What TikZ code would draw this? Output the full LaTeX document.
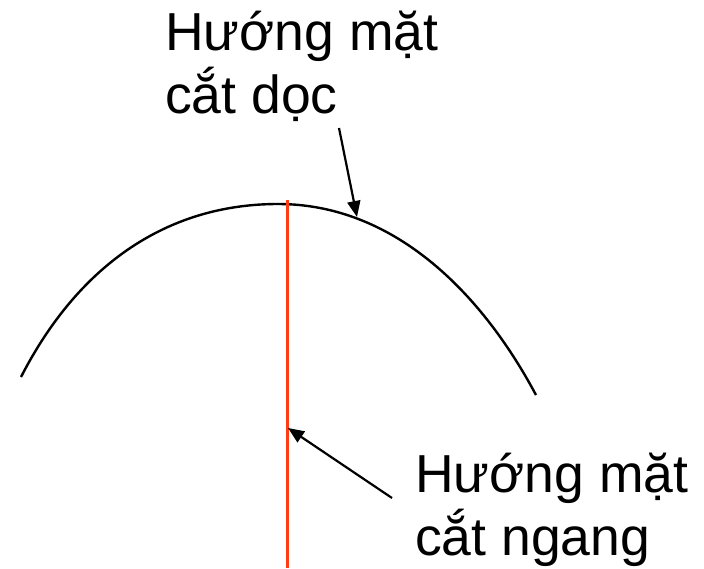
\documentclass[tikz,border=0pt]{standalone}
\usepackage{fontspec}
\setmainfont{Liberation Sans}
\usetikzlibrary{arrows.meta}
\definecolor{cutred}{RGB}{255,60,20}
\tikzset{
  lbl/.style={anchor=base west,inner sep=0pt,font=\fontsize{53.5}{63}\selectfont},
  curve/.style={line width=2.4pt,black},
  pointer/.style={line width=2.2pt,-{Triangle[length=16pt,width=13pt]}},
}
\begin{document}
\begin{tikzpicture}[x=1pt,y=-1pt]
\useasboundingbox (0,0) rectangle (704,568);
% arc
\coordinate (aL) at (21,377);
\coordinate (aT) at (278,204);
\coordinate (aR) at (536,395);
\draw[curve] (aL) .. controls (80,262) and (170,204) .. (aT)
                  .. controls (392,204) and (480,290) .. (aR);
% red vertical line
\coordinate (rtop) at (287,200);
\coordinate (rbot) at (287,568);
\draw[cutred,line width=3pt] (rtop) -- (rbot);
% labels
\node[lbl] (t1a) at (165,50) {Hướng mặt};
\node[lbl] (t1b) at (165,113) {cắt dọc};
\node[lbl] (t2a) at (415,492) {Hướng mặt};
\node[lbl] (t2b) at (415,555) {cắt ngang};
% arrow sources / targets
\coordinate (s1) at (339,128);
\coordinate (e1) at (357,217);
\coordinate (s2) at (392,498);
\coordinate (e2) at (288,428);
\draw[pointer] (s1) -- (e1);
\draw[pointer] (s2) -- (e2);
\end{tikzpicture}
\end{document}
